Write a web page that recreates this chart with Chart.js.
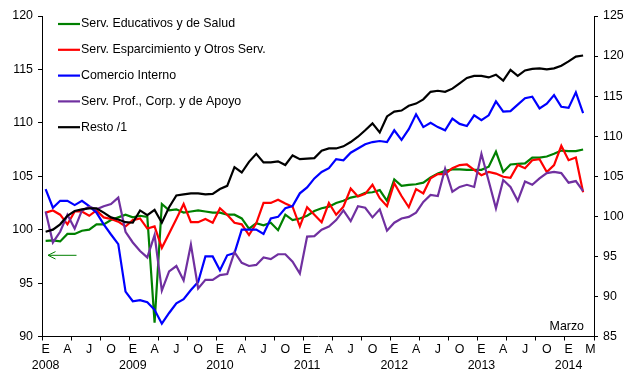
<!DOCTYPE html>
<html>
<head>
<meta charset="utf-8">
<script src="https://cdn.jsdelivr.net/npm/chart.js@4/dist/chart.umd.min.js"></script>
<style>
  html, body { margin: 0; padding: 0; background: #fff; }
  canvas { display: block; }
</style>
</head>
<body>
<canvas id="c" width="625" height="370"></canvas>
<script>
// Monthly index series, January 2008 (index 0) to March 2014 (index 74)
const seriesNames = [
  'Serv. Educativos y de Salud',
  'Serv. Esparcimiento y Otros Serv.',
  'Comercio Interno',
  'Serv. Prof., Corp. y de Apoyo',
  'Resto /1'
];
const seriesColors = ['#008000', '#ff0000', '#0000ff', '#7030a0', '#000000'];

const educSalud = [
  98.95, 99.0, 98.9, 99.6, 99.6, 99.9, 100.0, 100.5, 100.5, 100.9, 101.15, 101.4,
  101.15, 101.3, 101.2, 91.3, 102.4, 101.8, 101.9, 101.6, 101.7, 101.8, 101.7, 101.6,
  101.6, 101.4, 101.4, 101.05, 100.1, 100.6, 100.4, 100.65, 99.95, 101.4, 100.9, 101.05,
  101.3, 101.75, 102.0, 102.15, 102.5, 102.7, 103.0, 103.15, 103.45, 103.5, 103.7, 102.7,
  104.7, 104.1, 104.2, 104.25, 104.4, 104.9, 105.25, 105.5, 105.65, 105.65, 105.6, 105.6,
  105.6, 105.9, 107.3, 105.4, 106.1, 106.15, 106.2, 106.75, 106.75, 106.85, 107.1, 107.4,
  107.35, 107.35, 107.5
];
const esparcimiento = [
  101.6, 101.8, 101.4, 100.5, 101.7, 101.7, 101.3, 101.8, 101.15, 101.0, 100.75, 100.3,
  100.9, 101.05, 100.1, 100.3, 98.3, 99.65, 101.0, 102.4, 100.7, 100.7, 101.0, 100.65,
  102.0, 101.4, 100.65, 100.5, 99.5, 100.6, 102.5, 102.5, 102.8, 102.45, 102.15, 100.3,
  102.1, 101.4, 100.7, 102.5, 101.4, 102.15, 103.85, 103.1, 103.35, 104.2, 102.95, 102.2,
  104.35, 103.15, 102.1, 103.8, 103.4, 104.8, 105.2, 105.2, 105.75, 106.05, 106.1, 105.6,
  105.1, 105.4, 105.25, 104.95, 104.85, 106.05, 105.75, 106.5, 106.6, 105.4, 106.05, 107.85,
  106.5, 106.75, 103.5
];
const comercio = [
  103.8, 102.05, 102.7, 102.7, 102.3, 102.7, 102.2, 101.6, 100.5, 99.55, 98.65, 94.2,
  93.3, 93.4, 93.2, 92.5, 91.2, 92.2, 93.1, 93.5, 94.35, 95.1, 97.5, 97.5,
  96.2, 97.6, 97.8, 100.0, 100.0, 100.0, 99.6, 101.05, 101.2, 102.0, 102.2, 103.4,
  103.95, 104.8, 105.4, 105.75, 106.6, 106.5, 107.2, 107.6, 108.0, 108.2, 108.3, 108.2,
  109.3, 108.4, 109.4, 110.8, 109.6, 110.0, 109.6, 109.3, 110.4, 109.9, 109.7, 110.7,
  110.25, 110.7, 112.0, 111.05, 111.1, 111.7, 112.3, 112.45, 111.35, 111.8, 112.6, 111.5,
  111.4, 112.85, 110.9
];
const profesionales = [
  101.7, 98.8, 99.8, 101.4, 100.1, 101.8, 102.15, 101.9, 102.2, 102.4, 103.0, 99.8,
  98.8, 98.0, 97.4, 99.5, 94.3, 96.1, 96.6, 95.25, 98.6, 94.5, 95.3, 95.3,
  95.75, 95.85, 97.9, 96.9, 96.6, 96.7, 97.4, 97.25, 97.7, 97.7, 97.0, 95.9,
  99.35, 99.4, 100.0, 100.3, 100.9, 101.8, 100.8, 102.2, 102.05, 101.15, 101.9, 99.9,
  100.65, 101.05, 101.2, 101.6, 102.6, 103.25, 103.15, 105.7, 103.55, 104.0, 104.2, 104.0,
  107.1, 104.55, 102.0, 104.65, 104.0, 102.7, 104.5, 104.2, 104.8, 105.3, 105.4, 105.3,
  104.4, 104.55, 103.6
];
const resto = [
  99.8, 100.0, 100.5, 101.3, 101.75, 101.9, 102.0, 102.0, 101.6, 101.15, 100.95, 100.7,
  100.65, 101.8, 101.35, 101.85, 100.65, 102.1, 103.2, 103.3, 103.4, 103.4, 103.3, 103.35,
  103.8, 104.1, 105.85, 105.35, 106.35, 107.1, 106.3, 106.3, 106.4, 106.05, 106.95, 106.6,
  106.65, 106.7, 107.4, 107.6, 107.6, 107.8, 108.2, 108.7, 109.3, 109.95, 109.1, 110.6,
  111.05, 111.15, 111.6, 111.8, 112.2, 112.9, 113.0, 112.9, 113.2, 113.7, 114.2, 114.4,
  114.4, 114.25, 114.5, 113.95, 114.95, 114.4, 114.9, 115.05, 115.1, 115.0, 115.1, 115.35,
  115.75, 116.2, 116.3
];

// Month axis: labelled positions (month index) and their text
const xLabelIndex = [0, 3, 6, 9, 12, 15, 18, 21, 24, 27, 30, 33, 36, 39, 42, 45, 48, 51, 54, 57, 60, 63, 66, 69, 72, 75];
const xLabelText = [
  ['E', '2008'], 'A', 'J', 'O',
  ['E', '2009'], 'A', 'J', 'O',
  ['E', '2010'], 'A', 'J', 'O',
  ['E', '2011'], 'A', 'J', 'O',
  ['E', '2012'], 'A', 'J', 'O',
  ['E', '2013'], 'A', 'J', 'O',
  ['E', '2014'], 'M'
];
// Tick marks sit on category boundaries every four months
const xMarkIndex = [-0.5, 3.5, 7.5, 11.5, 15.5, 19.5, 23.5, 27.5, 31.5, 35.5, 39.5, 43.5, 47.5, 51.5, 55.5, 59.5, 63.5, 67.5, 71.5, 75.5];

const leftTicks = [90, 95, 100, 105, 110, 115, 120];
const rightTicks = [85, 90, 95, 100, 105, 110, 115, 120, 125];
const noteText = 'Marzo';

const FONT = 'Liberation Sans, Arial, sans-serif';
const FSIZE = 12.4;

const allSeries = [educSalud, esparcimiento, comercio, profesionales, resto];
const datasets = allSeries.map((vals, k) => ({
  label: seriesNames[k],
  data: vals.map((v, i) => ({ x: i, y: v })),
  borderColor: seriesColors[k],
  backgroundColor: seriesColors[k],
  borderWidth: 2.2,
  pointRadius: 0,
  tension: 0,
  fill: false,
  yAxisID: 'y',
  order: allSeries.length - k
}));

const overlay = {
  id: 'overlay',
  afterDraw(chart) {
    const ctx = chart.ctx;
    const area = chart.chartArea;
    ctx.save();
    // legend
    ctx.font = FSIZE + 'px ' + FONT;
    ctx.textBaseline = 'middle';
    ctx.textAlign = 'left';
    seriesNames.forEach((name, k) => {
      const y = 24 + k * 25.8;
      ctx.strokeStyle = seriesColors[k];
      ctx.lineWidth = 2.2;
      ctx.beginPath();
      ctx.moveTo(58, y);
      ctx.lineTo(80, y);
      ctx.stroke();
      ctx.fillStyle = '#000';
      ctx.fillText(name, 81, y);
    });
    // note in the lower right corner
    ctx.textAlign = 'right';
    ctx.fillText(noteText, area.right - 10, area.bottom - 10);
    // arrow pointing to the left-hand scale
    const ys = chart.scales.y.getPixelForValue(97.6);
    ctx.strokeStyle = '#008000';
    ctx.lineWidth = 1;
    ctx.beginPath();
    ctx.moveTo(area.left + 6, ys);
    ctx.lineTo(area.left + 34.5, ys);
    ctx.moveTo(area.left + 13.5, ys - 3.7);
    ctx.lineTo(area.left + 6, ys);
    ctx.lineTo(area.left + 13.5, ys + 3.7);
    ctx.stroke();
    ctx.restore();
  }
};

const isMark = v => xMarkIndex.some(m => Math.abs(m - v) < 1e-6);

new Chart(document.getElementById('c'), {
  type: 'line',
  data: { datasets },
  plugins: [overlay],
  options: {
    responsive: false,
    animation: false,
    devicePixelRatio: 1,
    layout: { padding: { top: 16, right: 0, bottom: 0, left: 0 } },
    plugins: { legend: { display: false }, tooltip: { enabled: false } },
    scales: {
      x: {
        type: 'linear',
        position: 'bottom',
        min: -0.5,
        max: 75.5,
        afterBuildTicks(scale) {
          const vals = xLabelIndex.concat(xMarkIndex).sort((a, b) => a - b);
          scale.ticks = vals.map(v => ({ value: v }));
        },
        afterFit(scale) { scale.height = 33.5; },
        ticks: {
          autoSkip: false,
          maxRotation: 0,
          minRotation: 0,
          padding: 1,
          color: '#000',
          font: { family: FONT, size: FSIZE, lineHeight: 1.3 },
          callback(v) {
            const j = xLabelIndex.indexOf(v);
            return j >= 0 ? xLabelText[j] : '';
          }
        },
        grid: {
          drawOnChartArea: false,
          drawTicks: true,
          tickLength: 4,
          tickWidth: 1,
          tickColor: c => (c.tick && isMark(c.tick.value)) ? '#000' : 'rgba(0,0,0,0)'
        },
        border: { display: true, color: '#000', width: 1 }
      },
      y: {
        position: 'left',
        min: 90,
        max: 120,
        afterBuildTicks(scale) { scale.ticks = leftTicks.map(v => ({ value: v })); },
        afterFit(scale) { scale.width = 42; },
        ticks: { padding: 5, color: '#000', font: { family: FONT, size: FSIZE } },
        grid: { drawOnChartArea: false, tickLength: 4, tickColor: '#000' },
        border: { display: true, color: '#000', width: 1 }
      },
      y2: {
        position: 'right',
        min: 85,
        max: 125,
        afterBuildTicks(scale) { scale.ticks = rightTicks.map(v => ({ value: v })); },
        afterFit(scale) { scale.width = 31; },
        ticks: { padding: 5, color: '#000', font: { family: FONT, size: FSIZE } },
        grid: { drawOnChartArea: false, tickLength: 4, tickColor: '#000' },
        border: { display: true, color: '#000', width: 1 }
      }
    }
  }
});
</script>
</body>
</html>
